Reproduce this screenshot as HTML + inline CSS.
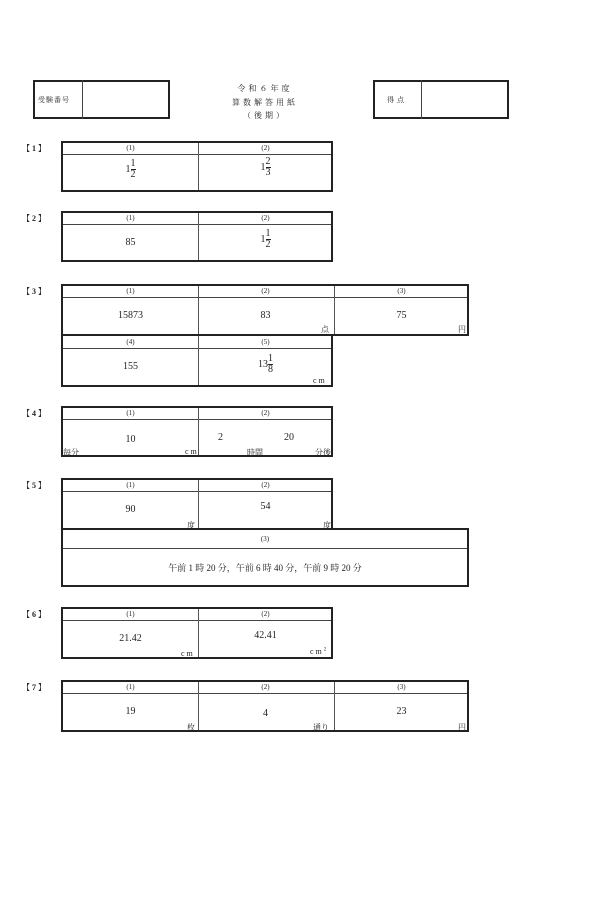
<!DOCTYPE html>
<html><head><meta charset="utf-8"><style>
body{margin:0;width:600px;height:900px;background:#fff;position:relative;font-family:"Liberation Serif","Noto Serif CJK SC",serif;color:#222;overflow:hidden}
div{position:absolute;box-sizing:border-box}
.t{border:2px solid #222}
.h{border-bottom:1px solid #444;left:0;right:0}
.v{border-left:1px solid #555;top:0;bottom:0}
.hd{font-size:7px;text-align:center}
.val{font-size:10px;text-align:center}
.u{font-size:8px}
.lb{font-size:8px;left:22px;font-weight:bold}
.fr{display:inline-block;vertical-align:middle;text-align:center;line-height:10px;font-size:10px}
.fr span{display:block;border-bottom:1px solid #222}
.c{font-size:8px;letter-spacing:3px;text-align:center;width:120px;left:205px}
</style></head><body>
<div class="t" style="left:33px;top:80px;width:137px;height:39px"></div>
<div style="left:82px;top:80px;height:39px;border-left:1px solid #444"></div>
<div style="left:38px;top:95px;font-size:7px;letter-spacing:1px">受験番号</div>
<div class="t" style="left:373px;top:80px;width:136px;height:39px"></div>
<div style="left:421px;top:80px;height:39px;border-left:1px solid #444"></div>
<div style="left:387px;top:95px;font-size:7px;letter-spacing:3px">得点</div>
<div class="c" style="top:83px">令和６年度</div>
<div class="c" style="top:97px">算数解答用紙</div>
<div class="c" style="top:110px">（後期）</div>

<!-- 1 -->
<div class="lb" style="top:143px">【 1 】</div>
<div class="t" style="left:61px;top:141px;width:272px;height:51px">
<div class="h" style="top:11px"></div><div class="v" style="left:135px"></div>
<div class="hd" style="left:0;width:135px;top:1px">(1)</div><div class="hd" style="left:135px;width:135px;top:1px">(2)</div>
<div class="val" style="left:0;width:135px;top:16px">1<span class="fr"><span>1</span>2</span></div>
<div class="val" style="left:135px;width:135px;top:14px">1<span class="fr"><span>2</span>3</span></div>
</div>
<!-- 2 -->
<div class="lb" style="top:213px">【 2 】</div>
<div class="t" style="left:61px;top:211px;width:272px;height:51px">
<div class="h" style="top:11px"></div><div class="v" style="left:135px"></div>
<div class="hd" style="left:0;width:135px;top:1px">(1)</div><div class="hd" style="left:135px;width:135px;top:1px">(2)</div>
<div class="val" style="left:0;width:135px;top:24px">85</div>
<div class="val" style="left:135px;width:135px;top:16px">1<span class="fr"><span>1</span>2</span></div>
</div>
<!-- 3 -->
<div class="lb" style="top:286px">【 3 】</div>
<div class="t" style="left:61px;top:284px;width:408px;height:52px">
<div class="h" style="top:11px"></div><div class="v" style="left:135px"></div><div class="v" style="left:271px"></div>
<div class="hd" style="left:0;width:135px;top:1px">(1)</div><div class="hd" style="left:135px;width:135px;top:1px">(2)</div><div class="hd" style="left:271px;width:135px;top:1px">(3)</div>
<div class="val" style="left:0;width:135px;top:24px">15873</div>
<div class="val" style="left:135px;width:135px;top:24px">83</div>
<div class="val" style="left:271px;width:135px;top:24px">75</div>
<div class="u" style="left:258px;top:38px">点</div><div class="u" style="left:395px;top:38px">円</div>
</div>
<div class="t" style="left:61px;top:334px;width:272px;height:53px">
<div class="h" style="top:12px"></div><div class="v" style="left:135px"></div>
<div class="hd" style="left:0;width:135px;top:2px">(4)</div><div class="hd" style="left:135px;width:135px;top:2px">(5)</div>
<div class="val" style="left:0;width:135px;top:25px">155</div>
<div class="val" style="left:135px;width:135px;top:18px">13<span class="fr"><span>1</span>8</span></div>
<div class="u" style="left:250px;top:40px;letter-spacing:2px">cm</div>
</div>
<!-- 4 -->
<div class="lb" style="top:408px">【 4 】</div>
<div class="t" style="left:61px;top:406px;width:272px;height:51px">
<div class="h" style="top:11px"></div><div class="v" style="left:135px"></div>
<div class="hd" style="left:0;width:135px;top:1px">(1)</div><div class="hd" style="left:135px;width:135px;top:1px">(2)</div>
<div class="val" style="left:0;width:135px;top:26px">10</div>
<div class="val" style="left:155px;top:24px">2</div><div class="val" style="left:221px;top:24px">20</div>
<div class="u" style="left:0;top:39px">毎分</div><div class="u" style="left:122px;top:39px;letter-spacing:2px">cm</div>
<div class="u" style="left:184px;top:39px">時間</div><div class="u" style="left:252px;top:39px">分後</div>
</div>
<!-- 5 -->
<div class="lb" style="top:480px">【 5 】</div>
<div class="t" style="left:61px;top:478px;width:272px;height:52px">
<div class="h" style="top:11px"></div><div class="v" style="left:135px"></div>
<div class="hd" style="left:0;width:135px;top:1px">(1)</div><div class="hd" style="left:135px;width:135px;top:1px">(2)</div>
<div class="val" style="left:0;width:135px;top:24px">90</div>
<div class="val" style="left:135px;width:135px;top:21px">54</div>
<div class="u" style="left:124px;top:40px">度</div><div class="u" style="left:260px;top:40px">度</div>
</div>
<div class="t" style="left:61px;top:528px;width:408px;height:59px">
<div class="h" style="top:18px"></div>
<div class="hd" style="left:0;right:0;top:5px">(3)</div>
<div class="val" style="left:0;right:0;top:31px;font-size:9px">午前 1 時 20 分，午前 6 時 40 分，午前 9 時 20 分</div>
</div>
<!-- 6 -->
<div class="lb" style="top:609px">【 6 】</div>
<div class="t" style="left:61px;top:607px;width:272px;height:52px">
<div class="h" style="top:11px"></div><div class="v" style="left:135px"></div>
<div class="hd" style="left:0;width:135px;top:1px">(1)</div><div class="hd" style="left:135px;width:135px;top:1px">(2)</div>
<div class="val" style="left:0;width:135px;top:24px">21.42</div>
<div class="val" style="left:135px;width:135px;top:21px">42.41</div>
<div class="u" style="left:118px;top:40px;letter-spacing:2px">cm</div><div class="u" style="left:247px;top:38px;letter-spacing:2px">cm<sup style="font-size:5px">2</sup></div>
</div>
<!-- 7 -->
<div class="lb" style="top:682px">【 7 】</div>
<div class="t" style="left:61px;top:680px;width:408px;height:52px">
<div class="h" style="top:11px"></div><div class="v" style="left:135px"></div><div class="v" style="left:271px"></div>
<div class="hd" style="left:0;width:135px;top:1px">(1)</div><div class="hd" style="left:135px;width:135px;top:1px">(2)</div><div class="hd" style="left:271px;width:135px;top:1px">(3)</div>
<div class="val" style="left:0;width:135px;top:24px">19</div>
<div class="val" style="left:135px;width:135px;top:26px">4</div>
<div class="val" style="left:271px;width:135px;top:24px">23</div>
<div class="u" style="left:124px;top:40px">枚</div><div class="u" style="left:250px;top:40px">通り</div><div class="u" style="left:395px;top:40px">円</div>
</div>
</body></html>
